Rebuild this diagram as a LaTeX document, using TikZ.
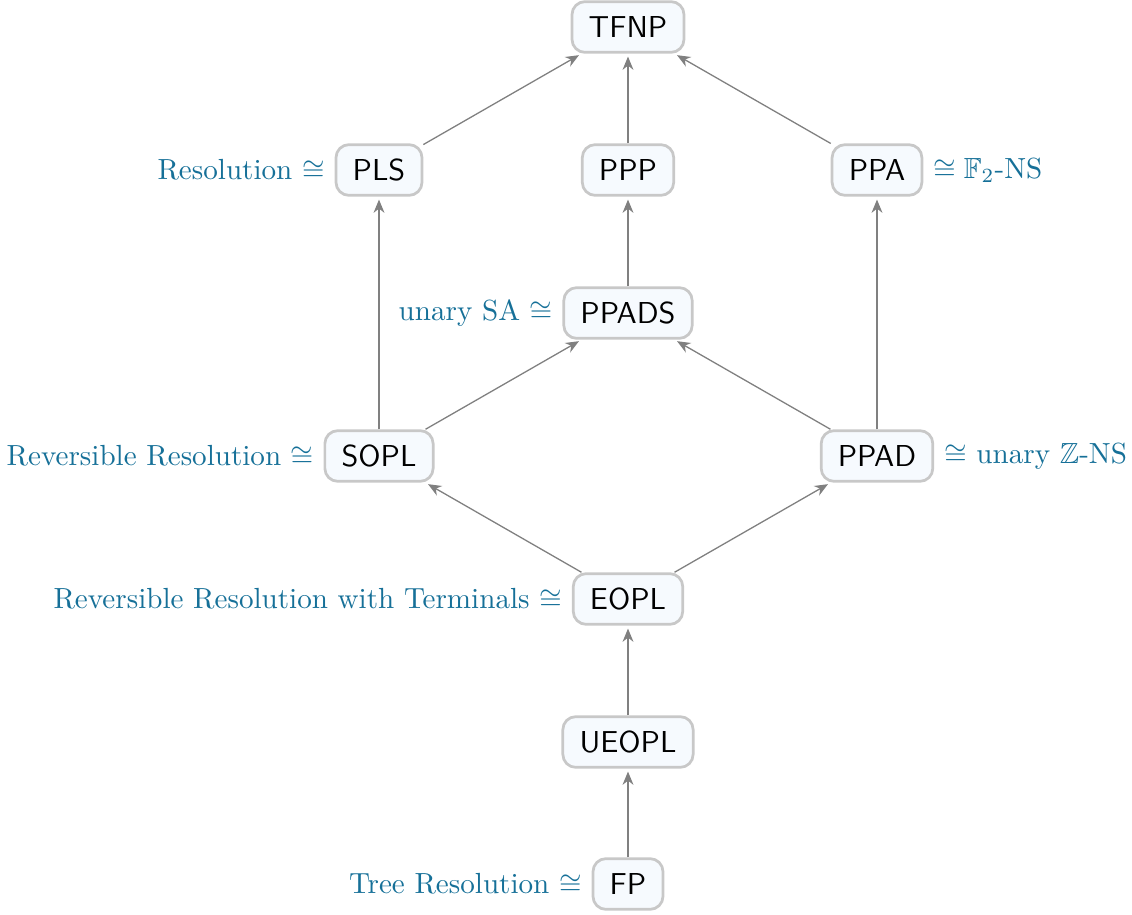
\documentclass[tikz,border=0pt]{standalone}
\usepackage{amssymb}
\usetikzlibrary{arrows.meta}
\definecolor{nodefill}{RGB}{246,250,254}
\definecolor{nodedraw}{RGB}{200,200,200}
\definecolor{labelblue}{RGB}{22,112,152}
\definecolor{edgegray}{RGB}{128,128,128}
\begin{document}
\begin{tikzpicture}[x=0.347pt,y=-0.347pt,
  cls/.style={draw=nodedraw, fill=nodefill, line width=0.95pt, rounded corners=4.5pt,
    inner xsep=5.8pt, minimum height=17.6pt, font=\sffamily\fontsize{10.5}{12}\selectfont},
  lbl/.style={text=labelblue, font=\fontsize{10.1}{12}\selectfont},
  edge/.style={draw=edgegray, line width=0.45pt, -{Stealth[length=4.6pt,width=3.8pt]}, shorten >=1pt}]
\useasboundingbox (0,0) rectangle (1132,915);
\node[cls] (TFNP) at (628,27) {TFNP};
\node[cls] (PLS) at (379,170) {PLS};
\node[cls] (PPP) at (628,170) {PPP};
\node[cls] (PPA) at (877,170) {PPA};
\node[cls] (PPADS) at (628,313) {PPADS};
\node[cls] (SOPL) at (379,456) {SOPL};
\node[cls] (PPAD) at (877,456) {PPAD};
\node[cls] (EOPL) at (628,599) {EOPL};
\node[cls] (UEOPL) at (628,742) {UEOPL};
\node[cls] (FP) at (628,884) {FP};

\node[lbl, anchor=east] (lPLS) at (PLS.west) {Resolution $\cong$};
\node[lbl, anchor=west] (lPPA) at (PPA.east) {$\cong \mathbb{F}_2$-NS};
\node[lbl, anchor=east] (lPPADS) at (PPADS.west) {unary SA $\cong$};
\node[lbl, anchor=east] (lSOPL) at (SOPL.west) {Reversible Resolution $\cong$};
\node[lbl, anchor=west] (lPPAD) at (PPAD.east) {$\cong$ unary $\mathbb{Z}$-NS};
\node[lbl, anchor=east] (lEOPL) at (EOPL.west) {Reversible Resolution with Terminals $\cong$};
\node[lbl, anchor=east] (lFP) at (FP.west) {Tree Resolution $\cong$};

\draw[edge] (PLS) -- (TFNP);
\draw[edge] (PPP) -- (TFNP);
\draw[edge] (PPA) -- (TFNP);
\draw[edge] (SOPL) -- (PLS);
\draw[edge] (PPADS) -- (PPP);
\draw[edge] (PPAD) -- (PPA);
\draw[edge] (SOPL) -- (PPADS);
\draw[edge] (PPAD) -- (PPADS);
\draw[edge] (EOPL) -- (SOPL);
\draw[edge] (EOPL) -- (PPAD);
\draw[edge] (UEOPL) -- (EOPL);
\draw[edge] (FP) -- (UEOPL);
\end{tikzpicture}
\end{document}
